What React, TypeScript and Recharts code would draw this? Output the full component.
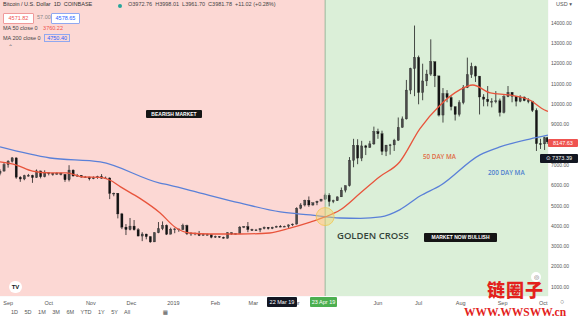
import {
  Bar,
  CartesianGrid,
  ComposedChart,
  Line,
  ReferenceArea,
  ReferenceDot,
  ReferenceLine,
  XAxis,
  YAxis,
} from "recharts";

// day 0 = 1 Sep 2018, one candle per 3 days
const days = [
  -6, -3, 0, 3, 6, 9, 12, 15, 18, 21, 24, 27, 30, 33, 36, 39, 42, 45, 48, 51, 54, 57, 60, 63, 66, 69, 72, 75, 78,
  81, 84, 87, 90, 93, 96, 99, 102, 105, 108, 111, 114, 117, 120, 123, 126, 129, 132, 135, 138, 141, 144, 147,
  150, 153, 156, 159, 162, 165, 168, 171, 174, 177, 180, 183, 186, 189, 192, 195, 198, 201, 204, 207, 210, 213,
  216, 219, 222, 225, 228, 231, 234, 237, 240, 243, 246, 249, 252, 255, 258, 261, 264, 267, 270, 273, 276, 279,
  282, 285, 288, 291, 294, 297, 300, 303, 306, 309, 312, 315, 318, 321, 324, 327, 330, 333, 336, 339, 342, 345,
  348, 351, 354, 357, 360, 363, 366, 369, 372, 375, 378, 381, 384, 387, 390, 393, 396, 398,
];
const firstOpen = 6600;
const closes = [
  6710, 7030, 7190, 7360, 6410, 6320, 6480, 6500, 6390, 6720, 6430, 6630, 6590, 6580, 6600, 6550, 6280, 6760,
  6470, 6500, 6420, 6420, 6330, 6380, 6440, 6360, 6370, 5610, 5620, 4600, 3950, 3830, 4000, 3820, 3510, 3610,
  3480, 3220, 3670, 3870, 4040, 3600, 3850, 3860, 3830, 4030, 3630, 3650, 3650, 3540, 3580, 3580, 3450, 3490,
  3450, 3400, 3670, 3610, 3630, 3950, 3980, 3830, 3800, 3810, 3880, 3940, 3880, 3940, 3990, 3980, 3990, 4060,
  4100, 4880, 5040, 5270, 5040, 5150, 5230, 5330, 5520, 5210, 5250, 5440, 5770, 5990, 7240, 7980, 7350, 7950,
  7880, 8050, 8660, 8550, 7680, 7990, 8000, 8230, 8860, 9280, 10700, 11760, 12310, 10580, 11150, 11490, 12100,
  11400, 9470, 10530, 10330, 9880, 9500, 10080, 10820, 11460, 11860, 11390, 10360, 10250, 10130, 10140, 10170,
  9600, 10380, 10590, 10400, 10150, 10360, 10180, 10160, 9700, 8060, 8050, 8350, 8150,
];
const highs = [
  6800, 7140, 7250, 7400, 7380, 6460, 6530, 6570, 6530, 6790, 6720, 6750, 6650, 6620, 6650, 6640, 6550, 7000,
  6790, 6570, 6510, 6470, 6430, 6450, 6480, 6560, 6440, 6400, 5650, 5620, 4650, 4100, 4400, 4300, 3900, 3700,
  3620, 3500, 3700, 4200, 4230, 4080, 3920, 3900, 3860, 4120, 4070, 3700, 3680, 3760, 3640, 3630, 3580, 3530,
  3500, 3480, 3700, 3690, 3650, 4000, 4000, 4200, 3870, 3860, 3900, 3980, 3950, 3970, 4020, 4050, 4020, 4080,
  4130, 4930, 5130, 5300, 5460, 5160, 5250, 5340, 5600, 5620, 5300, 5460, 5900, 6000, 7400, 8300, 8280, 8200,
  8000, 8200, 8900, 8800, 8700, 8000, 8050, 8300, 9350, 9400, 11200, 11800, 13880, 12400, 12000, 11700, 13200,
  12100, 11400, 10800, 10700, 10400, 9900, 10200, 10950, 12300, 12050, 11900, 11300, 10500, 10900, 10300, 10650,
  10280, 10450, 10900, 10600, 10400, 10450, 10380, 10300, 10150, 9800, 8300, 8400, 8400,
];
const lows = [
  6500, 6690, 6880, 7130, 6330, 6180, 6260, 6440, 6130, 6380, 6350, 6400, 6500, 6480, 6520, 6500, 6180, 6200,
  6440, 6430, 6380, 6380, 6250, 6310, 6330, 6330, 6320, 5330, 5470, 4380, 3850, 3560, 3790, 3780, 3500, 3260,
  3350, 3180, 3220, 3650, 3800, 3560, 3600, 3650, 3720, 3800, 3560, 3520, 3550, 3510, 3540, 3550, 3400, 3420,
  3420, 3390, 3390, 3570, 3590, 3640, 3900, 3700, 3760, 3770, 3700, 3840, 3830, 3850, 3930, 3950, 3960, 3910,
  4000, 4080, 4830, 4970, 4950, 5000, 5030, 5230, 5290, 4970, 5130, 5240, 5440, 5660, 5950, 6900, 7050, 7200,
  7500, 7850, 8000, 8300, 7500, 7450, 7520, 7700, 8200, 8850, 9250, 10500, 10400, 10000, 10200, 10900, 11400,
  10850, 9400, 9100, 10100, 9700, 9200, 9400, 10000, 10800, 11300, 11100, 9500, 9900, 9900, 9850, 10050, 9400,
  9550, 10350, 10100, 9900, 10100, 10150, 10050, 9620, 7700, 7800, 7750, 8050,
];

const ma50Days = [-6, 6, 18, 31, 43, 55, 68, 75, 83, 97, 112, 123, 134, 149, 171, 193, 208, 223, 234, 245, 260, 274, 289, 304, 319, 333, 343, 356, 370, 385, 396, 398.5];
const ma50 = [7160, 7010, 6710, 6620, 6620, 6420, 6400, 6270, 5930, 5380, 4660, 3960, 3660, 3610, 3610, 3660, 3900, 4200, 4450, 4790, 5630, 6420, 7160, 8800, 9970, 10700, 10950, 10560, 10460, 10210, 9720, 9650];
const ma200Days = [-6, 31, 68, 112, 119, 142, 171, 201, 223, 245, 260, 275, 289, 304, 319, 348, 363, 385, 398.5];
const ma200 = [7900, 7355, 7160, 6120, 6020, 5630, 5140, 4700, 4550, 4400, 4380, 4450, 4800, 5480, 6000, 7500, 7900, 8290, 8480];

const monthTicks = [0, 30, 61, 91, 122, 153, 181, 212, 242, 273, 303, 334, 365, 395];
const monthLabels = ["Sep", "Oct", "Nov", "Dec", "2019", "Feb", "Mar", "Apr", "", "Jun", "Jul", "Aug", "Sep", "Oct"];
const priceTicks = [1000, 2000, 3000, 4000, 5000, 6000, 7000, 8000, 9000, 10000, 11000, 12000, 13000, 14000];
const crossDay = 234;
const crossPrice = 4470;

const candles = days.map((d, i) => ({
  day: d,
  open: i === 0 ? firstOpen : closes[i - 1],
  close: closes[i],
  high: highs[i],
  low: lows[i],
  range: [lows[i], highs[i]],
}));
const ma50Data = ma50Days.map((d, i) => ({ day: d, v: ma50[i] }));
const ma200Data = ma200Days.map((d, i) => ({ day: d, v: ma200[i] }));

const FONT = "'Liberation Sans', 'DejaVu Sans', sans-serif";

const Candle = (props: any) => {
  const { x, y, width, height, payload } = props;
  if (!payload || height == null) return null;
  const { open, close, high, low } = payload;
  const px = (v: number) => y + ((high - v) / (high - low)) * height;
  const cx = x + width / 2;
  const top = px(Math.max(open, close));
  const bot = px(Math.min(open, close));
  return (
    <g>
      <line x1={cx} x2={cx} y1={y} y2={y + height} stroke="#1e1e1e" strokeWidth={0.8} />
      <rect
        x={cx - 1.1}
        y={top}
        width={2.2}
        height={Math.max(bot - top, 0.8)}
        fill={close >= open ? "#4a4a4a" : "#141414"}
        stroke="#1e1e1e"
        strokeWidth={0.3}
      />
    </g>
  );
};

const tag = (bg: string, color = "#fff") => ({
  position: "absolute" as const,
  background: bg,
  color,
  fontSize: 5.5,
  lineHeight: "9px",
  textAlign: "center" as const,
  fontFamily: FONT,
  borderRadius: 1,
  whiteSpace: "nowrap" as const,
});

export default function App() {
  return (
    <div style={{ position: "absolute", left: 0, top: 0, width: 578, height: 323, background: "#fff", overflow: "hidden" }}>
      <ComposedChart width={578} height={323} data={candles} margin={{ top: 0, right: 0, bottom: 0, left: 0 }}>
        <ReferenceArea x1={-6} x2={crossDay} fill="#fcd8d4" fillOpacity={1} stroke="none" />
        <ReferenceArea x1={crossDay} x2={398.5} fill="#dbefd8" fillOpacity={1} stroke="none" />
        <CartesianGrid stroke="rgba(0,0,0,0.045)" />
        <ReferenceLine x={crossDay} stroke="#9bb79a" strokeWidth={1} />
        <XAxis
          dataKey="day"
          type="number"
          domain={[-6, 398.5]}
          allowDataOverflow
          ticks={monthTicks}
          tickFormatter={(v: number) => monthLabels[monthTicks.indexOf(v)]}
          height={27}
          axisLine={false}
          tickLine={false}
          tickSize={4}
          tickMargin={1}
          tick={{ fontSize: 5.5, fill: "#555", fontFamily: FONT }}
        />
        <YAxis
          orientation="right"
          type="number"
          domain={[557, 15138]}
          allowDataOverflow
          ticks={priceTicks}
          tickFormatter={(v: number) => v.toFixed(2)}
          width={30}
          axisLine={false}
          tickLine={false}
          tickSize={0}
          tickMargin={3}
          tick={{ fontSize: 5, fill: "#555", fontFamily: FONT }}
        />
        <Bar dataKey="range" barSize={3} shape={<Candle />} isAnimationActive={false} />
        <Line data={ma200Data} dataKey="v" type="monotone" stroke="#5a80d8" strokeWidth={1.3} dot={false} activeDot={false} isAnimationActive={false} />
        <Line data={ma50Data} dataKey="v" type="monotone" stroke="#e8543c" strokeWidth={1.3} dot={false} activeDot={false} isAnimationActive={false} />
        <ReferenceDot x={crossDay} y={crossPrice} r={9} fill="#f3d36a" fillOpacity={0.45} stroke="#f0c550" strokeWidth={0.8} />
      </ComposedChart>

      {/* legend block */}
      <div style={{ position: "absolute", left: 3, top: 1, fontSize: 5.5, fontFamily: FONT, color: "#333", whiteSpace: "nowrap" }}>
        Bitcoin / U.S. Dollar &nbsp;1D &nbsp;COINBASE
      </div>
      <div style={{ position: "absolute", left: 118, top: 4, width: 4, height: 4, borderRadius: 2, background: "#26a69a" }} />
      <div style={{ position: "absolute", left: 128, top: 1, fontSize: 5.5, fontFamily: FONT, color: "#444", whiteSpace: "nowrap" }}>
        O3972.76 &nbsp;H3998.01 &nbsp;L3961.70 &nbsp;C3981.78 &nbsp;+11.02 (+0.28%)
      </div>
      <div style={{ ...tag("#fff", "#ef5350"), left: 3, top: 13, width: 29, border: "0.5px solid #ef9a9a" }}>4571.82</div>
      <div style={{ position: "absolute", left: 37, top: 14, fontSize: 5.5, fontFamily: FONT, color: "#888" }}>57.00</div>
      <div style={{ ...tag("#fff", "#2962ff"), left: 51, top: 13, width: 27, border: "0.5px solid #90a8f0" }}>4578.65</div>
      <div style={{ position: "absolute", left: 3, top: 25, fontSize: 5.5, fontFamily: FONT, color: "#444", whiteSpace: "nowrap" }}>
        MA 50 close 0 <span style={{ color: "#ef5350", marginLeft: 4 }}>3760.22</span>
      </div>
      <div style={{ position: "absolute", left: 3, top: 35, fontSize: 5.5, fontFamily: FONT, color: "#444", whiteSpace: "nowrap" }}>
        MA 200 close 0{" "}
        <span style={{ color: "#2962ff", marginLeft: 2, border: "0.5px solid #90a8f0", padding: "0 2px" }}>4750.40</span>
      </div>
      <div style={{ position: "absolute", left: 8, top: 43, fontSize: 6, color: "#666", fontFamily: FONT }}>⌃</div>

      {/* annotations */}
      <div style={{ ...tag("#151515"), left: 146, top: 110, width: 56, height: 8, lineHeight: "8px", fontSize: 5, fontWeight: 700 }}>
        BEARISH MARKET
      </div>
      <div
        style={{
          position: "absolute",
          left: 337,
          top: 229,
          fontSize: 9.5,
          fontWeight: 600,
          color: "#34443a",
          fontFamily: "'Open Sans', sans-serif",
          whiteSpace: "nowrap",
        }}
      >
        GOLDEN CROSS
      </div>
      <div style={{ ...tag("#151515"), left: 424, top: 233, width: 73, height: 9, fontSize: 5, fontWeight: 700 }}>
        MARKET NOW BULLISH
      </div>
      <div style={{ position: "absolute", left: 423, top: 152, fontSize: 6.3, fontWeight: 600, color: "#e06a44", fontFamily: "'Open Sans', sans-serif", whiteSpace: "nowrap" }}>
        50 DAY MA
      </div>
      <div style={{ position: "absolute", left: 488, top: 168, fontSize: 6.3, fontWeight: 600, color: "#4f7fcf", fontFamily: "'Open Sans', sans-serif", whiteSpace: "nowrap" }}>
        200 DAY MA
      </div>

      {/* axis tags */}
      <div style={{ position: "absolute", left: 556, top: 1, fontSize: 5.5, fontFamily: FONT, color: "#555" }}>USD ▾</div>
      <div style={{ ...tag("#ef5350"), left: 548, top: 139, width: 30, height: 8, lineHeight: "8px" }}>8147.63</div>
      <div style={{ ...tag("#131722"), left: 540, top: 154, width: 38, height: 9 }}>⊙ 7373.39</div>
      <div style={{ ...tag("#131722"), left: 267, top: 297, width: 30, height: 10, lineHeight: "10px" }}>22 Mar 19</div>
      <div style={{ ...tag("#4caf50"), left: 310, top: 297, width: 27, height: 10, lineHeight: "10px" }}>23 Apr 19</div>

      {/* bottom toolbar */}
      <div
        style={{
          position: "absolute",
          left: 9,
          top: 281,
          width: 13,
          height: 12,
          borderRadius: 6,
          background: "#fff",
          fontSize: 6,
          fontWeight: 700,
          lineHeight: "12px",
          textAlign: "center",
          fontFamily: FONT,
          color: "#131722",
        }}
      >
        TV
      </div>
      <div style={{ position: "absolute", left: 531, top: 272, width: 10, height: 10, borderRadius: 5, background: "#fff", fontSize: 6, lineHeight: "10px", textAlign: "center", color: "#666" }}>
        ◎
      </div>
      <div style={{ position: "absolute", left: 11, top: 309, fontSize: 5.5, fontFamily: FONT, color: "#555", whiteSpace: "nowrap", wordSpacing: 5 }}>
        1D 5D 1M 3M 6M YTD 1Y 5Y All &nbsp; &nbsp; ▦
      </div>
      <div style={{ position: "absolute", left: 560, top: 298, fontSize: 7, fontFamily: FONT, color: "#666" }}>○</div>

      {/* watermark */}
      <div
        style={{
          position: "absolute",
          left: 487,
          top: 279,
          fontSize: 18,
          fontWeight: 900,
          color: "#e3221c",
          fontFamily: "'Noto Sans CJK SC', sans-serif",
          letterSpacing: 1,
          lineHeight: "21px",
          whiteSpace: "nowrap",
        }}
      >
        链圈子
      </div>
      <div
        style={{
          position: "absolute",
          left: 464,
          top: 306,
          fontSize: 11.5,
          fontWeight: 700,
          color: "#e3221c",
          fontFamily: "'Liberation Serif', serif",
          lineHeight: "13px",
          whiteSpace: "nowrap",
        }}
      >
        WWW.WWSWW.cn
      </div>
    </div>
  );
}
